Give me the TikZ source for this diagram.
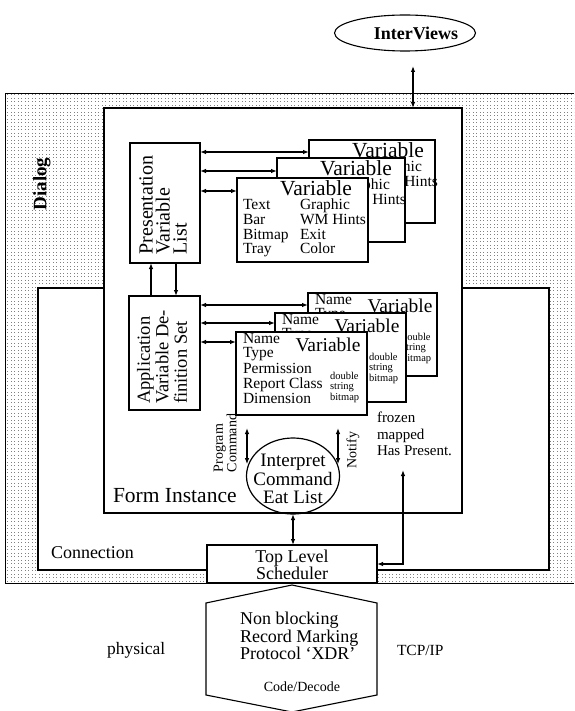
\documentclass[tikz,border=0pt]{standalone}
\usepackage{fontspec}
\setmainfont{Liberation Serif}
\usetikzlibrary{arrows.meta,patterns,shapes.geometric,calc}
\pgfdeclarepatternformonly{stipple}{\pgfqpoint{-0.5pt}{-0.5pt}}{\pgfqpoint{4pt}{4pt}}{\pgfqpoint{3.5pt}{3.5pt}}{\pgfpathrectangle{\pgfqpoint{0pt}{0pt}}{\pgfqpoint{0.85pt}{0.85pt}}\pgfusepath{fill}}

\newcommand\VarBox[6]{%
  \node[bx, minimum width=#4pt, minimum height=#5pt, anchor=north west] (#1) at (#2,#3) {};
  \node[#6, anchor=base] (#1-t) at ([shift={(\vtx pt,-\vty pt)}]#1.north west) {Variable};
}
\newcommand\VarTxt[5]{%
  \node[#5] (#1-#2) at ([shift={(#3pt,-#4pt)}]#1.north west) {\vtext};
}

\begin{document}
\begin{tikzpicture}[x=1pt,y=-1pt,
  every node/.style={inner sep=0pt, outer sep=0pt},
  bx/.style={draw, line width=1.1pt, fill=white},
  arr/.style={line width=1.1pt, {Latex[length=6pt,width=4.5pt]}-{Latex[length=6pt,width=4.5pt]}},
  ptitle/.style={font=\fontsize{21.5}{21.5}\selectfont},
  atitle/.style={font=\fontsize{19.5}{19.5}\selectfont},
  rowtxt/.style={font=\fontsize{15.5}{15.5}\selectfont, anchor=base west},
  tinytxt/.style={font=\fontsize{10.5}{10.5}\selectfont, anchor=base west},
  ]
\useasboundingbox (0,0) rectangle (574,711);

% Dialog stippled region
\fill[pattern=stipple, pattern color=black!50] (5,93) rectangle (574,583);
\fill[white] (104,108) rectangle (462,513);
\fill[white] (38,288) rectangle (549,570);
\draw[line width=0.8pt] (574,93) -- (5,93) -- (5,583) -- (574,583);
\node[rotate=90, font=\bfseries\fontsize{19}{19}\selectfont] (dlg) at (42,184) {Dialog};

% Connection border
\draw[line width=1.2pt] (104,288) -- (38,288) -- (38,570) -- (549,570) -- (549,288) -- (462,288);
\node[anchor=west, font=\fontsize{18}{18}\selectfont] (conn) at (51,553) {Connection};

% Form Instance
\node[draw, line width=1.2pt, minimum width=358pt, minimum height=405pt, anchor=north west] (form) at (104,108) {};
\node[anchor=west, font=\fontsize{21.5}{21.5}\selectfont] (formlbl) at (113,496) {Form Instance};

% InterViews
\node[draw, ellipse, line width=1.1pt, minimum width=141pt, minimum height=36pt] (iv) at (405,33) {};
\node[font=\bfseries\fontsize{18}{18}\selectfont] (ivt) at (416,33) {InterViews};
\coordinate (ivA) at (413,66);
\draw[arr] (ivA) -- (ivA |- form.north);

% Presentation Variable List
\node[bx, minimum width=70pt, minimum height=120pt, anchor=north west] (pvl) at (130,143) {};
\node[rotate=90, align=left, font=\fontsize{20}{17}\selectfont] (pvlt) at (163,205) {Presentation\\Variable\\List};

\def\vtx{79}\def\vty{18}
\VarBox{pv3}{309}{140}{126}{83}{ptitle}
\def\vtext{Graphic}\VarTxt{pv3}{e}{63}{32}{rowtxt}
\def\vtext{WM Hints}\VarTxt{pv3}{f}{63}{46.5}{rowtxt}
\VarBox{pv2}{277}{158}{128}{84}{ptitle}
\def\vtext{Graphic}\VarTxt{pv2}{e}{63}{32}{rowtxt}
\def\vtext{WM Hints}\VarTxt{pv2}{f}{63}{46.5}{rowtxt}
\VarBox{pv1}{237}{178}{131}{84}{ptitle}
\def\vtext{Text}\VarTxt{pv1}{a}{6}{32}{rowtxt}
\def\vtext{Bar}\VarTxt{pv1}{b}{6}{46.5}{rowtxt}
\def\vtext{Bitmap}\VarTxt{pv1}{c}{6}{61}{rowtxt}
\def\vtext{Tray}\VarTxt{pv1}{d}{6}{75.5}{rowtxt}
\def\vtext{Graphic}\VarTxt{pv1}{e}{63}{32}{rowtxt}
\def\vtext{WM Hints}\VarTxt{pv1}{f}{63}{46.5}{rowtxt}
\def\vtext{Exit}\VarTxt{pv1}{g}{63}{61}{rowtxt}
\def\vtext{Color}\VarTxt{pv1}{h}{63}{75.5}{rowtxt}

\coordinate (pa3) at ($(pv3.north west)+(0,12)$);
\coordinate (pa2) at ($(pv2.north west)+(0,13)$);
\coordinate (pa1) at ($(pv1.north west)+(0,13)$);
\draw[arr] (pvl.east |- pa3) -- (pa3);
\draw[arr] (pvl.east |- pa2) -- (pa2);
\draw[arr] (pvl.east |- pa1) -- (pa1);

% Application Variable Definition Set
\node[bx, minimum width=71pt, minimum height=114pt, anchor=north west] (avs) at (129,296) {};
\node[rotate=90, align=left, font=\fontsize{18.5}{18.5}\selectfont] (avst) at (162,357) {Application\\Variable De-\\finition Set};

\def\vtx{92}\def\vty{19}
\VarBox{av3}{308}{293}{129}{83}{atitle}
\def\vtext{Name}\VarTxt{av3}{a}{7}{11}{rowtxt}
\def\vtext{Type}\VarTxt{av3}{b}{7}{25.5}{rowtxt}
\def\vtext{double}\VarTxt{av3}{f}{94}{47}{tinytxt}
\def\vtext{string}\VarTxt{av3}{g}{94}{57.5}{tinytxt}
\def\vtext{bitmap}\VarTxt{av3}{h}{94}{68}{tinytxt}
\VarBox{av2}{275}{313}{131}{89}{atitle}
\def\vtext{Name}\VarTxt{av2}{a}{7}{11}{rowtxt}
\def\vtext{Type}\VarTxt{av2}{b}{7}{25.5}{rowtxt}
\def\vtext{double}\VarTxt{av2}{f}{94}{47}{tinytxt}
\def\vtext{string}\VarTxt{av2}{g}{94}{57.5}{tinytxt}
\def\vtext{bitmap}\VarTxt{av2}{h}{94}{68}{tinytxt}
\VarBox{av1}{236}{332}{131}{83}{atitle}
\def\vtext{Name}\VarTxt{av1}{a}{7}{11}{rowtxt}
\def\vtext{Type}\VarTxt{av1}{b}{7}{25.5}{rowtxt}
\def\vtext{Permission}\VarTxt{av1}{c}{7}{41}{rowtxt}
\def\vtext{Report Class}\VarTxt{av1}{d}{7}{56}{rowtxt}
\def\vtext{Dimension}\VarTxt{av1}{e}{7}{71}{rowtxt}
\def\vtext{double}\VarTxt{av1}{f}{94}{47}{tinytxt}
\def\vtext{string}\VarTxt{av1}{g}{94}{57.5}{tinytxt}
\def\vtext{bitmap}\VarTxt{av1}{h}{94}{68}{tinytxt}

\coordinate (aa3) at ($(av3.north west)+(0,12)$);
\coordinate (aa2) at ($(av2.north west)+(0,10)$);
\coordinate (aa1) at ($(av1.north west)+(0,10)$);
\draw[arr] (avs.east |- aa3) -- (aa3);
\draw[arr] (avs.east |- aa2) -- (aa2);
\draw[arr] (avs.east |- aa1) -- (aa1);

% between list and set
\coordinate (lk1) at (151,0);
\coordinate (lk2) at (176,0);
\draw[line width=1.1pt, -{Latex[length=6pt,width=4.5pt]}] (lk1 |- avs.north) -- (lk1 |- pvl.south);
\draw[line width=1.1pt, -{Latex[length=6pt,width=4.5pt]}] (lk2 |- pvl.south) -- (lk2 |- avs.north);

% Interpret circle
\node[draw, ellipse, line width=1.2pt, minimum width=93pt, minimum height=76pt] (circ) at (293,476) {};
\node[align=center, font=\fontsize{19}{18.5}\selectfont] (circt) at (293,479) {Interpret\\Command\\Eat List};

\node[rotate=90, align=left, font=\fontsize{14}{13.5}\selectfont] (pcmd) at (225,443) {Program\\Command};
\node[rotate=90, font=\fontsize{14}{14}\selectfont] (ntf) at (353,450) {Notify};
\node[anchor=west, align=left, font=\fontsize{15}{16.5}\selectfont] (frz) at (377,434) {frozen\\mapped\\Has Present.};

% Top Level Scheduler
\node[bx, minimum width=170pt, minimum height=38pt, anchor=north west] (tls) at (207,545) {};
\node[align=center, font=\fontsize{18}{16}\selectfont] (tlst) at (292,565) {Top Level\\Scheduler};

% Hexagon
\draw[line width=1.1pt] (292,585) -- (377,603) -- (377,695) -- (292,712) -- (206,695) -- (206,603) -- cycle;
\node[anchor=west, align=left, font=\fontsize{18}{17.5}\selectfont] (hext) at (240,636) {Non blocking\\Record Marking\\Protocol `XDR'};
\node[font=\fontsize{14}{14}\selectfont] (codec) at (302,687) {Code/Decode};
\node[anchor=west, font=\fontsize{17.5}{17.5}\selectfont] (phys) at (107,650) {physical};
\node[anchor=west, font=\fontsize{15.5}{15.5}\selectfont] (tcp) at (397,650) {TCP/IP};

% connectors
\coordinate (pc1) at (247,428);
\coordinate (nt1) at (338,428);
\coordinate (hp) at (403,470);
\draw[arr] (pc1) -- (pc1 |- circ.165);
\draw[arr] (nt1) -- (nt1 |- circ.15);
\draw[arr] (circ.south) -- (circ.south |- tls.north);
\draw[arr] (hp) |- (tls.east);
\end{tikzpicture}
\end{document}
